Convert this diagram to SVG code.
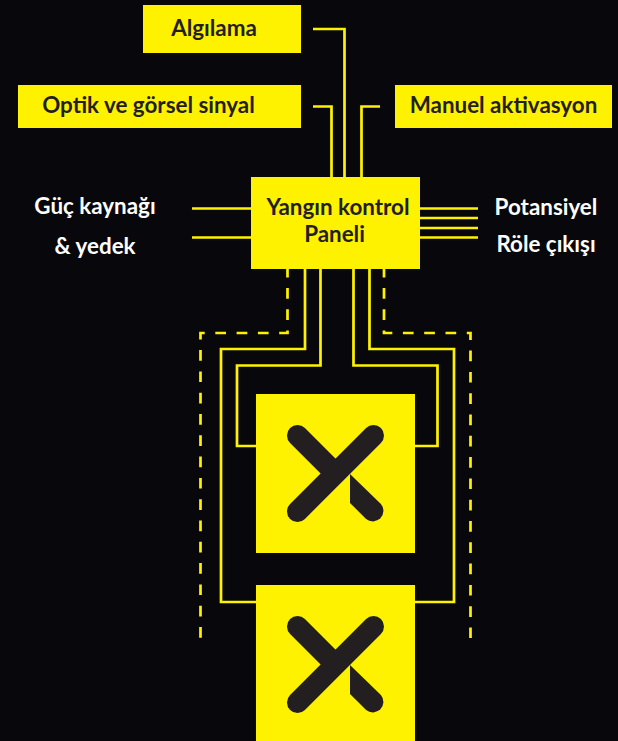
<svg xmlns="http://www.w3.org/2000/svg" width="618" height="741" viewBox="0 0 618 741">
<style>
.box{fill:#fff200}
.t{font-family:Lato,"Noto Sans",sans-serif;font-weight:700;font-size:22.4px;text-anchor:middle}
.d{fill:#231f20}
.w{fill:#fff}
.c{fill:none;stroke:#fff200;stroke-width:2.7}
.da{stroke-dasharray:10.7 10.6;stroke-dashoffset:2.3}
.mark{stroke:#231f20;stroke-width:21;stroke-linecap:round;fill:none}
</style>
<defs>
<g id="x">
<path class="mark" d="M41.500 117.500L117.500 41.500M41.500 41.500L79 79"/>
<path fill="#231f20" d="M94 80L124.900 110.100A10.500 10.500 0 0 1 110.100 124.900L94 109Z"/>
</g>
</defs>
<rect width="618" height="741" fill="#08080c"/>
<g id="connectors">
<path class="c" d="M313 29H344.500V177"/>
<path class="c" d="M313 106.500H331.500V177"/>
<path class="c" d="M380 106.500H361.500V177"/>
<path class="c" d="M192 208.500H251M192 237.500H251"/>
<path class="c" d="M420 208.500H478M420 218H478M420 228H478M420 237.500H478"/>
<path class="c da" d="M287.500 269V333H200.500V638"/>
<path class="c" d="M305 269V349H221V602H256"/>
<path class="c" d="M320.500 269V365.500H237V446H256"/>
<path class="c" d="M353.500 269V365.500H437.500V446H415"/>
<path class="c" d="M369.500 269V349H454V602H415"/>
<path class="c da" d="M384 269V333H470.500V638"/>
</g>
<g id="algilama"><rect class="box" x="143" y="5" width="158" height="48"/><text class="t d" x="214" y="36">Algılama</text></g>
<g id="optik"><rect class="box" x="18" y="85" width="283" height="43"/><text class="t d" x="148.500" y="113">Optik ve görsel sinyal</text></g>
<g id="manuel"><rect class="box" x="395" y="85" width="217" height="43"/><text class="t d" x="503.500" y="113">Manuel aktivasyon</text></g>
<g id="panel"><rect class="box" x="251" y="177" width="169" height="92"/><text class="t d" x="338" y="215">Yangın kontrol</text><text class="t d" x="334.500" y="242">Paneli</text></g>
<g id="guc"><text class="t w" x="95" y="214">Güç kaynağı</text><text class="t w" x="95" y="254">&amp; yedek</text></g>
<g id="role"><text class="t w" x="546" y="215">Potansiyel</text><text class="t w" x="546" y="252">Röle çıkışı</text></g>
<g id="device1"><rect class="box" x="256" y="394" width="159" height="159"/><use href="#x" x="256" y="394"/></g>
<g id="device2"><rect class="box" x="256" y="585" width="159" height="156"/><use href="#x" x="256" y="585"/></g>
</svg>
